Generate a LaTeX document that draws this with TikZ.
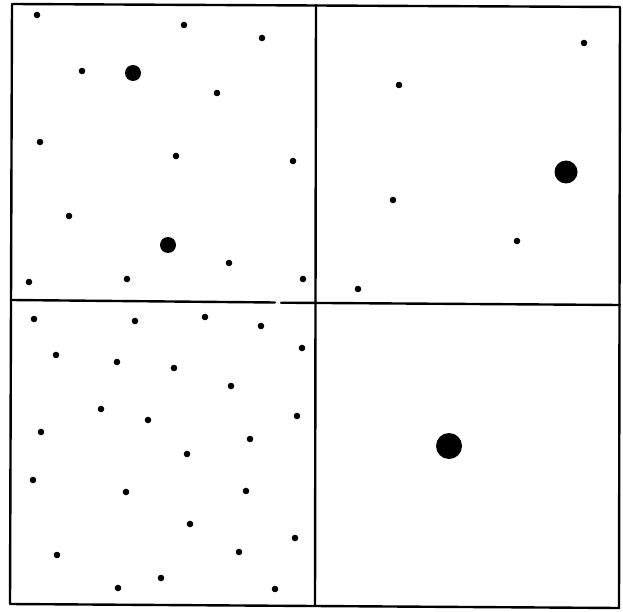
\documentclass[tikz,border=0pt]{standalone}
\begin{document}
\begin{tikzpicture}[x=1pt,y=-1pt,
  frame/.style={line width=2.4pt,black,line cap=round,line join=round},
  sdot/.style={fill=black},
]
\useasboundingbox (0,0) rectangle (623,612);
% frame
\coordinate (tl) at (12,4);
\coordinate (tr) at (620,7);
\coordinate (br) at (619,608);
\coordinate (bl) at (10,604);
\coordinate (mt) at (316,5);
\coordinate (mb) at (315,606);
\coordinate (ml) at (12,300);
\coordinate (mr) at (620,305);
\coordinate (g1) at (275,302.5);
\coordinate (g2) at (281,302.7);
\draw[frame] (tl) -- (tr) -- (br) -- (bl) -- cycle;
\draw[frame] (mt) -- (mb);
\draw[frame] (ml) -- (g1);
\draw[frame] (g2) -- (mr);
% top-left small dots
\foreach \x/\y in {37/15,184/25,262/38,82/71,217/93,40/142,176/156,293/161,69/216,229/263,29/282,127/279,303/279}
  \fill[sdot] (\x,\y) circle (3.3);
% top-left large dots
\fill[sdot] (133,73) circle (8);
\fill[sdot] (168,245) circle (8);
% top-right
\foreach \x/\y in {584/43,399/85,393/200,517/241,358/289}
  \fill[sdot] (\x,\y) circle (3.3);
\fill[sdot] (566,172) circle (11.5);
% bottom-left
\foreach \x/\y in {34/319,135/321,205/317,261/326,302/348,56/355,117/362,174/368,231/386,101/409,148/420,297/416,41/432,250/439,187/454,33/480,126/492,246/491,190/524,295/538,57/555,239/552,161/578,118/588,275/589}
  \fill[sdot] (\x,\y) circle (3.3);
% bottom-right
\fill[sdot] (449,446) circle (13);
\end{tikzpicture}
\end{document}
